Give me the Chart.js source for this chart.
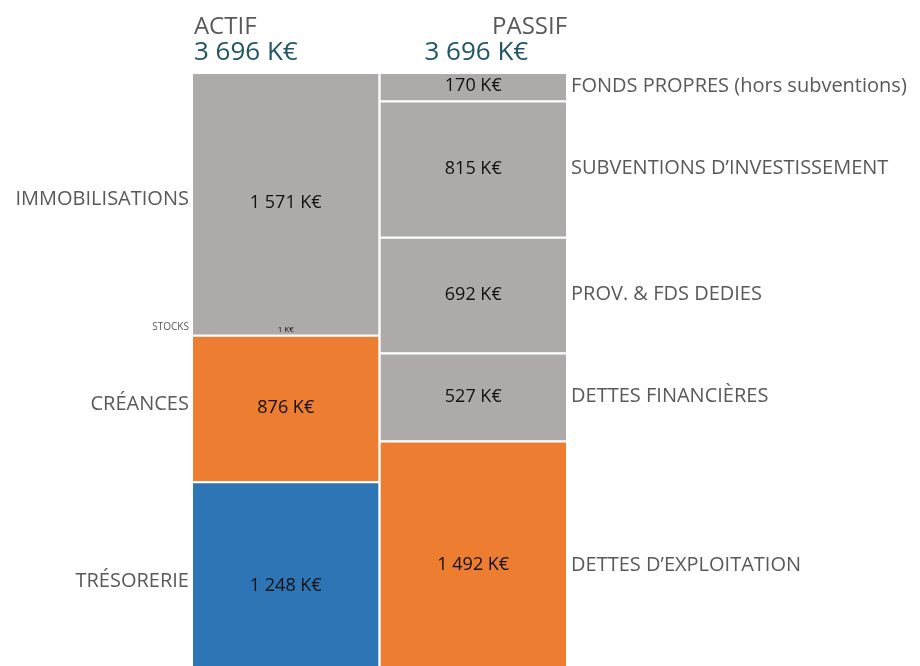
<!DOCTYPE html>
<html>
<head>
<meta charset="utf-8">
<script src="https://cdn.jsdelivr.net/npm/chart.js@4.4.0/dist/chart.umd.min.js"></script>
<style>
  html, body { margin: 0; padding: 0; background: #fff; overflow: hidden; }
  #wrap { width: 920px; height: 666px; overflow: hidden; }
  #inner { width: 920px; height: 690px; position: relative; }
</style>
</head>
<body>
<div id="wrap"><div id="inner"><canvas id="bilan"></canvas></div></div>
<script>
const columns = ['ACTIF', 'PASSIF'];
const totals = [3696, 3696];

// actif, from bottom to top
const actifNames = ['TRÉSORERIE', 'CRÉANCES', 'STOCKS', 'IMMOBILISATIONS'];
const actifValues = [1248, 876, 1, 1571];
const actifColors = ['#2e75b6', '#ed7d31', '#ed7d31', '#aeaaaa'];

// passif, from bottom to top
const passifNames = ['DETTES D\u2019EXPLOITATION', 'DETTES FINANCIÈRES', 'PROV. & FDS DEDIES', 'SUBVENTIONS D\u2019INVESTISSEMENT', 'FONDS PROPRES (hors subventions)'];
const passifValues = [1492, 527, 692, 815, 170];
const passifColors = ['#ed7d31', '#aeaaaa', '#aeaaaa', '#aeaaaa', '#aeaaaa'];

const fmt = v => String(v).replace(/\B(?=(\d{3})+(?!\d))/g, ' ') + ' K\u20ac';
const FONT = "'Open Sans', sans-serif";

const datasets = [];
actifNames.forEach((n, i) => {
    datasets.push({
        label: n, side: 0,
        data: [actifValues[i], null],
        backgroundColor: actifColors[i]
    });
});
passifNames.forEach((n, i) => {
    datasets.push({
        label: n, side: 1,
        data: [null, passifValues[i]],
        backgroundColor: passifColors[i]
    });
});
datasets.forEach(d => {
    d.borderColor = 'rgba(255,255,255,0.45)';
    d.borderWidth = { top: 2 };
    d.borderSkipped = false;
    d.categoryPercentage = 1;
    d.barPercentage = 0.99;
});

const labelsPlugin = {
    id: 'bilanLabels',
    afterDatasetsDraw(chart) {
        const ctx = chart.ctx;
        ctx.save();
        chart.data.datasets.forEach((ds, di) => {
            const meta = chart.getDatasetMeta(di);
            const el = meta.data[ds.side];
            if (!el) return;
            const v = ds.data[ds.side];
            const cy = (el.y + el.base) / 2;
            const small = v < 20;
            ctx.fillStyle = '#111';
            ctx.textAlign = 'center';
            ctx.textBaseline = 'middle';
            ctx.font = (small ? '8px ' : '18px ') + FONT;
            ctx.fillText(fmt(v), el.x, cy - (small ? 5 : 0));
            // category name outside the bar
            ctx.fillStyle = '#595959';
            if (ds.side === 0) {
                ctx.textAlign = 'right';
                ctx.font = (small ? '10px ' : '20px ') + FONT;
                ctx.fillText(ds.label, el.x - el.width / 2 - 4, cy - (small ? 8 : 4));
            } else {
                ctx.textAlign = 'left';
                ctx.font = '20px ' + FONT;
                ctx.fillText(ds.label, el.x + el.width / 2 + 5, cy);
            }
        });
        // column headings
        const a = chart.getDatasetMeta(0).data[0];
        const p = chart.getDatasetMeta(actifNames.length).data[1];
        ctx.textBaseline = 'alphabetic';
        ctx.font = '24px ' + FONT;
        ctx.fillStyle = '#595959';
        ctx.textAlign = 'left';
        ctx.fillText(columns[0], a.x - a.width / 2 + 1, 34);
        ctx.textAlign = 'right';
        ctx.fillText(columns[1], p.x + p.width / 2 + 1, 34);
        ctx.font = '26px ' + FONT;
        ctx.fillStyle = '#1f5565';
        ctx.textAlign = 'left';
        ctx.fillText(fmt(totals[0]), a.x - a.width / 2 + 1, 60);
        ctx.fillText(fmt(totals[1]), p.x - p.width / 2 + 44, 60);
        ctx.restore();
    }
};

new Chart(document.getElementById('bilan').getContext('2d'), {
    type: 'bar',
    data: { labels: columns, datasets: datasets },
    options: {
        responsive: true,
        maintainAspectRatio: false,
        animation: false,
        layout: { padding: { left: 192, right: 353, top: 72, bottom: 0 } },
        scales: {
            x: { stacked: true, display: false },
            y: { stacked: true, display: false, min: 0, max: 3696 }
        },
        plugins: {
            legend: { display: false },
            tooltip: { enabled: false }
        }
    },
    plugins: [labelsPlugin]
});
</script>
</body>
</html>
